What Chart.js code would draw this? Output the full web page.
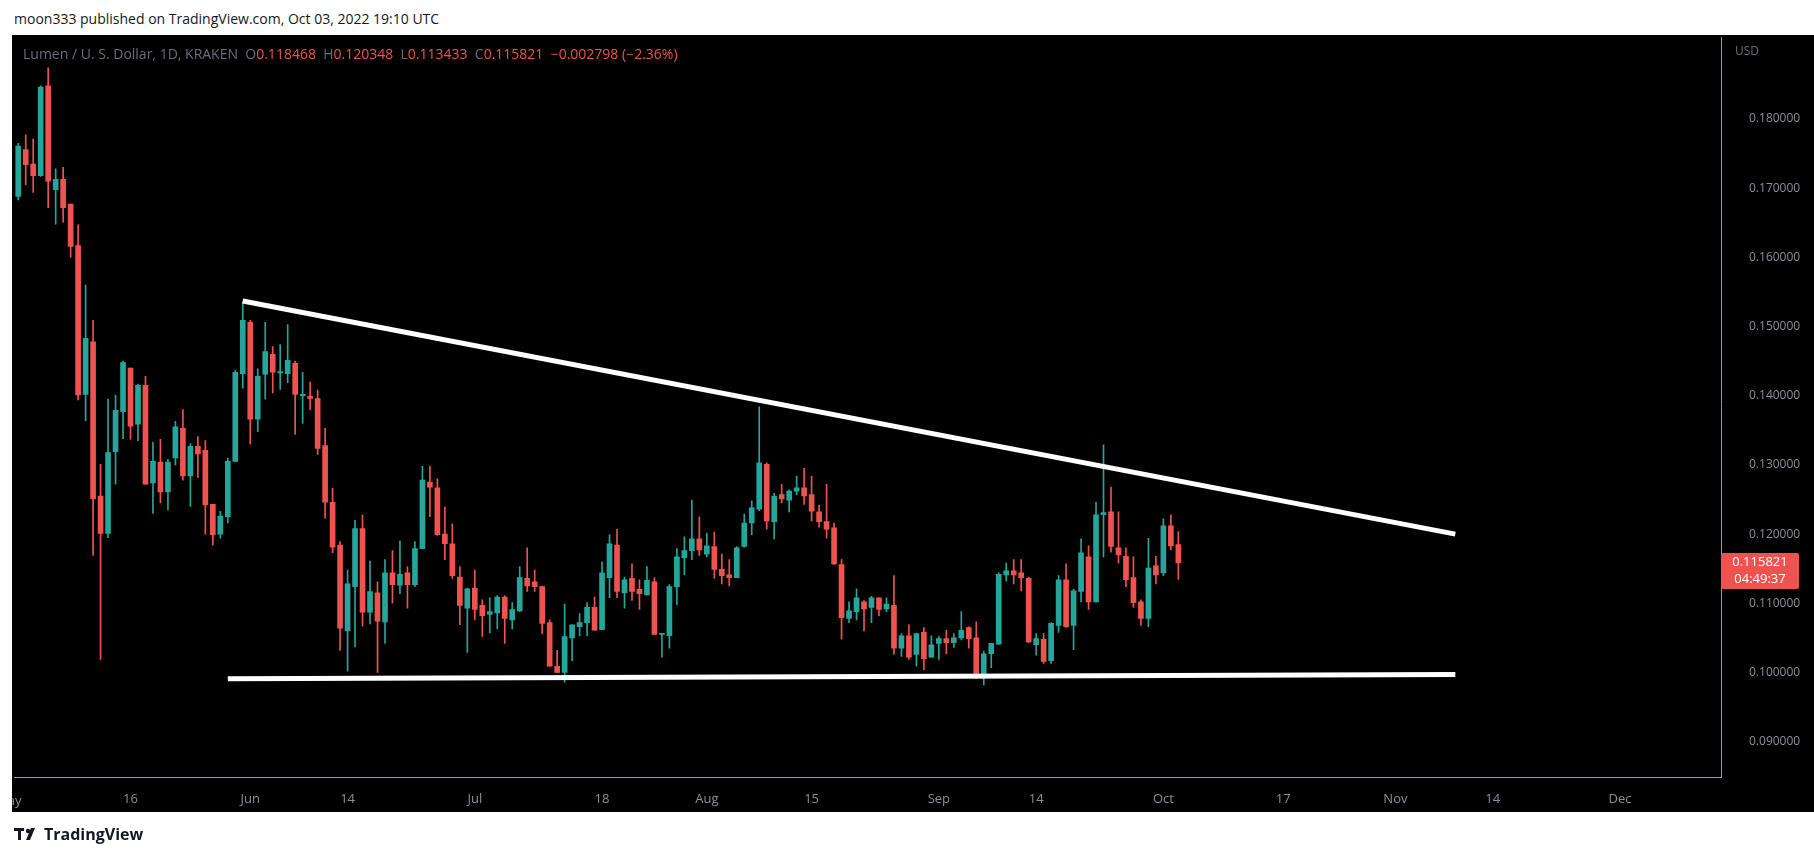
<!DOCTYPE html>
<html><head><meta charset="utf-8">
<script src="https://cdn.jsdelivr.net/npm/chart.js@4.4.0/dist/chart.umd.min.js"></script>
<style>
html,body{margin:0;padding:0;background:#fff;width:1814px;height:856px;overflow:hidden;font-family:"Open Sans","DejaVu Sans",sans-serif}
#hdr{position:absolute;left:14px;top:9px;font-size:14px;color:#131722}
#panel{position:absolute;left:12px;top:35px;width:1802px;height:777px;background:#000;overflow:hidden}
#c{display:block}
#may{position:absolute;left:-16px;top:756px;font-size:13px;color:#8c8f99}
#legend{position:absolute;left:23px;top:44px;font-size:14px;color:#6a6d78;white-space:pre}
#legend .v{color:#ef5350}
#usd{position:absolute;left:1735px;top:42px;font-size:12px;color:#6a6d78}
#tag{position:absolute;left:1721px;top:553px;width:78px;height:36px;background:#ef5350;color:#fff;font-size:13px;line-height:17px;text-align:center;border-radius:2px}
#foot{position:absolute;left:14px;top:823px;font-size:16px;font-weight:bold;color:#131722;display:flex;align-items:center;gap:4px}
</style></head><body>
<div id="hdr">moon333 published on TradingView.com, Oct 03, 2022 19:10 UTC</div>
<div id="panel"><canvas id="c" width="1802" height="777" style="width:1802px;height:777px"></canvas><div id="may">May</div></div>
<div id="legend">Lumen / U. S. Dollar, 1D, KRAKEN  O<span class="v">0.118468</span>  H<span class="v">0.120348</span>  L<span class="v">0.113433</span>  C<span class="v">0.115821</span>  <span class="v">−0.002798 (−2.36%)</span></div>
<div id="usd">USD</div>
<div id="tag">0.115821<br>04:49:37</div>
<div id="foot"><svg width="26" height="14" viewBox="0 0 26 14"><rect x="0" y="1" width="10" height="3" fill="#131722"/><rect x="4" y="1" width="3" height="12" fill="#131722"/><circle cx="14" cy="4" r="2.2" fill="#131722"/><polygon points="17,1 21,1 16,13 12,13" fill="#131722"/></svg>TradingView</div>
<script>
const opens=[.1688,.1756,.1735,.1718,.1848,.1698,.1713,.1677,.1617,.1402,
.1478,.1255,.1201,.1319,.1377,.1440,.1359,.1415,.1274,.1304,
.1261,.1310,.1353,.1284,.1327,.1321,.1243,.1200,.1225,.1305,
.1432,.1506,.1366,.1431,.1460,.1433,.1432,.1447,.1400,.1399,
.1396,.1328,.1246,.1184,.1060,.1124,.1208,.1087,.1115,.1073,
.1144,.1126,.1144,.1127,.1179,.1275,.1267,.1200,.1186,.1138,
.1093,.1122,.1097,.1084,.1086,.1109,.1076,.1089,.1136,.1131,
.1124,.1072,.1009,.1000,.1050,.1066,.1072,.1094,.1062,.1137,
.1184,.1115,.1136,.1120,.1112,.1131,.1055,.1053,.1124,.1166,
.1176,.1193,.1171,.1182,.1149,.1141,.1137,.1182,.1216,.1236,
.1301,.1218,.1257,.1249,.1262,.1267,.1257,.1232,.1218,.1209,
.1156,.1078,.1088,.1102,.1094,.1108,.1092,.1097,.1035,.1053,
.1026,.1058,.1022,.1042,.1049,.1043,.1050,.1065,.1050,.0994,
.1027,.1041,.1141,.1147,.1144,.1136,.1040,.1048,.1017,.1068,
.1134,.1068,.1117,.1167,.1102,.1228,.1232,.1180,.1168,.1137,
.1102,.1078,.1154,.1144,.1212,.118468];
const highs=[.1765,.1777,.1771,.1848,.1874,.1728,.1730,.1677,.1647,.1560,
.1509,.1301,.1395,.1401,.1450,.1440,.1417,.1428,.1333,.1337,
.1308,.1363,.1380,.1331,.1341,.1335,.1243,.1233,.1310,.1437,
.1536,.1509,.1439,.1506,.1471,.1474,.1503,.1450,.1434,.1420,
.1408,.1353,.1266,.1189,.1148,.1220,.1228,.1161,.1131,.1163,
.1176,.1190,.1153,.1189,.1298,.1298,.1280,.1239,.1215,.1153,
.1122,.1148,.1105,.1108,.1111,.1111,.1101,.1153,.1180,.1148,
.1125,.1076,.1032,.1099,.1069,.1085,.1101,.1109,.1160,.1199,
.1207,.1138,.1157,.1134,.1153,.1137,.1056,.1127,.1179,.1196,
.1249,.1225,.1201,.1203,.1171,.1163,.1182,.1229,.1248,.1384,
.1303,.1259,.1272,.1264,.1284,.1295,.1284,.1242,.1272,.1216,
.1163,.1102,.1121,.1104,.1110,.1108,.1108,.1140,.1056,.1069,
.1056,.1065,.1053,.1052,.1061,.1056,.1088,.1066,.1073,.1031,
.1042,.1144,.1158,.1163,.1163,.1138,.1056,.1056,.1072,.1140,
.1157,.1120,.1193,.1183,.1246,.1329,.1268,.1232,.1180,.1167,
.1105,.1194,.1168,.1222,.1228,.120348];
const lows=[.1683,.1705,.1694,.1717,.1672,.1648,.1651,.1600,.1394,.1364,
.1169,.1019,.1195,.1272,.1338,.1337,.1335,.1272,.1230,.1245,
.1235,.1300,.1278,.1240,.1282,.1200,.1184,.1194,.1216,.1305,
.1411,.1330,.1348,.1395,.1404,.1409,.1419,.1344,.1360,.1380,
.1315,.1223,.1173,.1032,.1002,.1037,.1067,.1070,.1000,.1042,
.1100,.1114,.1093,.1124,.1179,.1225,.1198,.1163,.1136,.1069,
.1029,.1076,.1052,.1057,.1063,.1042,.1063,.1088,.1117,.1117,
.1056,.1009,.1000,.0986,.1017,.1053,.1053,.1061,.1062,.1108,
.1108,.1093,.1104,.1091,.1112,.1055,.1022,.1035,.1098,.1141,
.1163,.1169,.1167,.1136,.1128,.1125,.1137,.1181,.1199,.1234,
.1207,.1193,.1245,.1232,.1257,.1243,.1219,.1210,.1194,.1156,
.1048,.1072,.1076,.1060,.1072,.1082,.1088,.1026,.1023,.1019,
.1009,.1004,.1022,.1019,.1027,.1036,.1047,.1035,.0991,.0982,
.1007,.1041,.1132,.1128,.1118,.1043,.1025,.1013,.1013,.1058,
.1065,.1033,.1102,.1091,.1102,.1167,.1174,.1158,.1124,.1094,
.1068,.1066,.1128,.1140,.1177,.113433];
const closes=[.1761,.1734,.1718,.1846,.1710,.1713,.1672,.1616,.1401,.1483,
.1251,.1201,.1318,.1379,.1448,.1356,.1415,.1272,.1305,.1261,
.1304,.1355,.1284,.1327,.1316,.1242,.1199,.1226,.1305,.1434,
.1509,.1366,.1428,.1464,.1434,.1435,.1451,.1402,.1402,.1396,
.1324,.1246,.1181,.1064,.1128,.1208,.1087,.1117,.1074,.1144,
.1127,.1142,.1127,.1179,.1278,.1268,.1199,.1186,.1140,.1097,
.1121,.1091,.1082,.1088,.1109,.1078,.1091,.1137,.1125,.1124,
.1071,.1009,.1000,.1052,.1069,.1072,.1094,.1061,.1144,.1186,
.1117,.1134,.1117,.1114,.1133,.1055,.1056,.1124,.1167,.1176,
.1193,.1177,.1183,.1149,.1140,.1137,.1180,.1216,.1238,.1303,
.1219,.1255,.1251,.1262,.1267,.1255,.1233,.1218,.1207,.1157,
.1079,.1089,.1108,.1092,.1108,.1091,.1099,.1035,.1053,.1022,
.1056,.1020,.1040,.1049,.1043,.1050,.1061,.1049,.0996,.1027,
.1042,.1142,.1147,.1141,.1137,.1044,.1049,.1016,.1071,.1134,
.1066,.1118,.1173,.1102,.1228,.1231,.1182,.1170,.1134,.1101,
.1078,.1151,.1141,.1212,.1183,.115821];
// x tick labels: candle index -> label (index 0 = May 1; "May" itself is cut at the left edge)
const tickIdx=[15,31,44,61,78,92,106,123,136,153,169,184,197,214];
const tickTxt=["16","Jun","14","Jul","18","Aug","15","Sep","14","Oct","17","Nov","14","Dec"];
const yTicks=[0.09,0.10,0.11,0.12,0.13,0.14,0.15,0.16,0.17,0.18];
const resistance=[{x:30,y:0.1537},{x:192,y:0.1200}];
const support=[{x:28,y:0.0991},{x:192,y:0.0997}];

const N=228;
const labels=Array.from({length:N},(_,i)=>i);
const up='#26a69a',dn='#ef5350';
const cols=opens.map((o,i)=>closes[i]>=o?up:dn);
const bodies=opens.map((o,i)=>[o,closes[i]]);
const wicks=lows.map((l,i)=>[l,highs[i]]);
// fit y range so that 0.18 / 0.09 land where the reference puts them (canvas-relative px)
const fitY={id:'fitY',afterLayout(chart){
  if(chart.$fitted)return;chart.$fitted=true;
  const a=chart.chartArea,k=(706.5-81.8)/0.09;
  const max=0.18+(81.8-a.top)/k,min=max-(a.bottom-a.top)/k;
  chart.options.scales.y.min=min;chart.options.scales.y.max=max;
  setTimeout(()=>chart.update('none'),0);
}};
new Chart(document.getElementById('c'),{
  type:'bar',
  data:{labels,datasets:[
    {data:wicks,backgroundColor:cols,barThickness:1,grouped:false,order:2},
    {data:bodies,backgroundColor:cols,barThickness:5,grouped:false,minBarLength:1,order:1},
    {type:'line',data:resistance,borderColor:'#fff',borderWidth:5,pointRadius:0,order:0},
    {type:'line',data:support,borderColor:'#fff',borderWidth:5,pointRadius:0,order:0}
  ]},
  plugins:[fitY],
  options:{
    responsive:false,animation:false,devicePixelRatio:1,
    layout:{padding:0},
    plugins:{legend:{display:false},tooltip:{enabled:false}},
    scales:{
      x:{type:'category',offset:true,grid:{display:false},border:{color:'#9598a1',width:1},
        ticks:{autoSkip:false,maxRotation:0,color:'#8c8f99',font:{size:13,family:'"Open Sans"'},padding:6,
          callback:(v,i)=>{const j=tickIdx.indexOf(i);return j>=0?tickTxt[j]:null;}},
        afterFit:s=>{s.height=35;s.paddingLeft=0;s.paddingRight=0;}},
      y:{position:'right',min:0.08487,max:0.19179,grid:{display:false},border:{color:'#9598a1',width:1},
        afterBuildTicks:s=>{s.ticks=yTicks.map(v=>({value:v}));},
        ticks:{color:'#8c8f99',font:{size:12,family:'"Open Sans"'},padding:20,callback:v=>v.toFixed(6)},
        afterFit:s=>{s.width=93;s.paddingTop=0;s.paddingBottom=0;}}
    }
  }
});
</script></body></html>
